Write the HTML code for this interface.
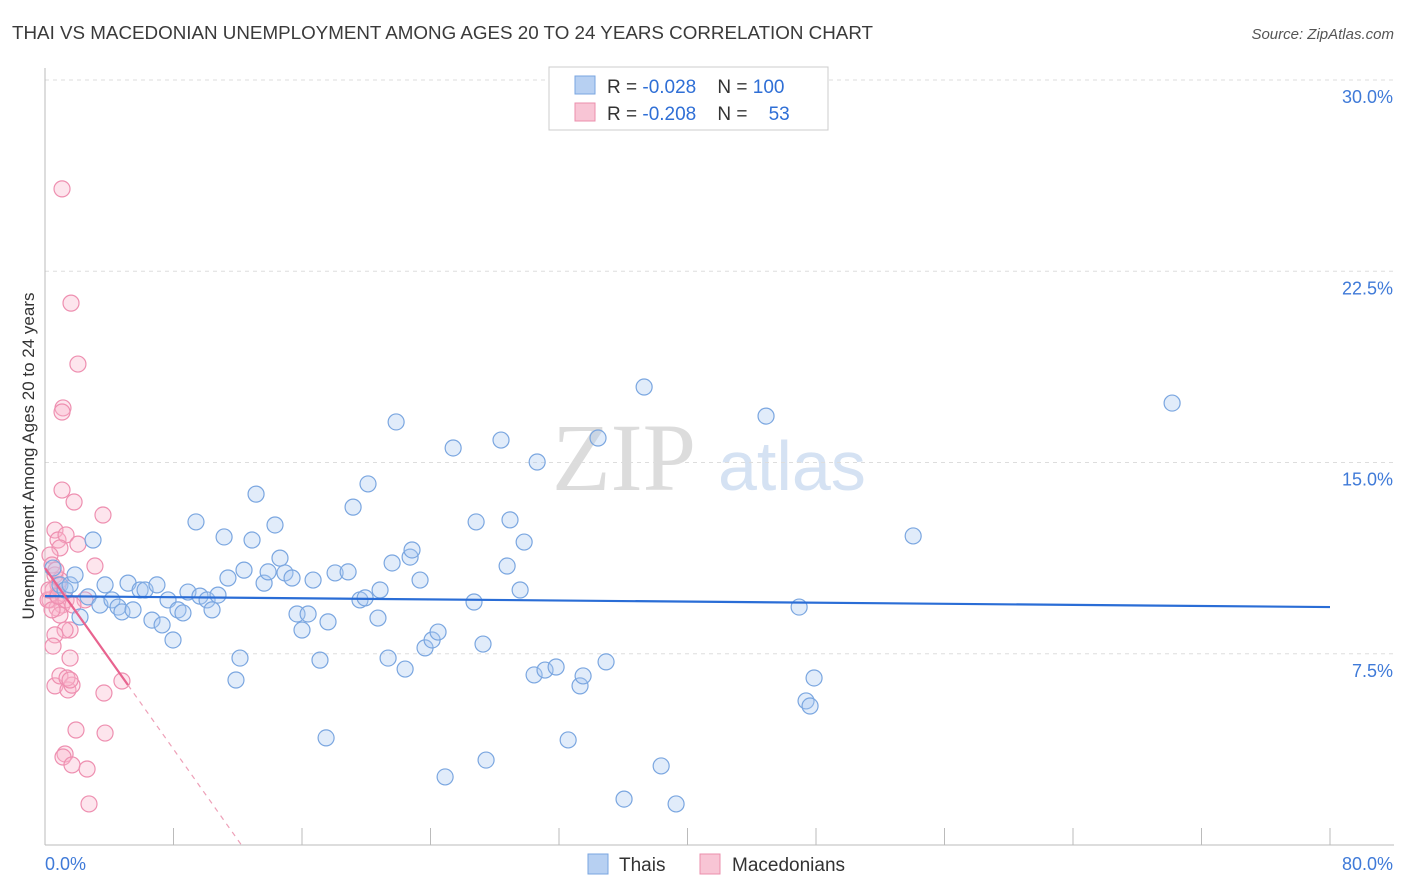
<!DOCTYPE html>
<html><head><meta charset="utf-8">
<style>
body{margin:0;background:#fff;font-family:"Liberation Sans",sans-serif;}
svg{display:block}
</style></head>
<body>
<svg id="chart" width="1406" height="892">
<text x="12" y="39" font-size="18.8" fill="#3a3a3a">THAI VS MACEDONIAN UNEMPLOYMENT AMONG AGES 20 TO 24 YEARS CORRELATION CHART</text>
<text x="1394" y="39" font-size="15" fill="#555" font-style="italic" text-anchor="end">Source: ZipAtlas.com</text>
<g>
<text x="552" y="490" font-size="96" fill="#dcdcdc" font-family="Liberation Serif,serif">ZIP</text>
<text x="718" y="490" font-size="70" fill="#d5e2f3">atlas</text>
</g>
<g id="grid"></g>
<g id="axes"></g>
<g id="marks"></g>
<text transform="translate(34,456) rotate(-90)" font-size="17" fill="#333" text-anchor="middle">Unemployment Among Ages 20 to 24 years</text>
<g>
<rect x="549" y="67" width="279" height="63" fill="#fff" stroke="#ccc"/>
<rect x="575" y="76" width="20" height="18" fill="#b7d0f2" stroke="#7aa6e0"/>
<text x="607" y="93" font-size="19" fill="#333" xml:space="preserve">R = <tspan fill="#2f6fd6">-0.028</tspan>    N = <tspan fill="#2f6fd6">100</tspan></text>
<rect x="575" y="103" width="20" height="18" fill="#f8c5d5" stroke="#eb8fac"/>
<text x="607" y="120" font-size="19" fill="#333" xml:space="preserve">R = <tspan fill="#2f6fd6">-0.208</tspan>    N =    <tspan fill="#2f6fd6">53</tspan></text>
</g>
<g>
<rect x="588" y="854" width="20" height="20" fill="#b7d0f2" stroke="#7aa6e0"/>
<text x="619" y="871" font-size="19" fill="#333">Thais</text>
<rect x="700" y="854" width="20" height="20" fill="#f8c5d5" stroke="#eb8fac"/>
<text x="732" y="871" font-size="19" fill="#333">Macedonians</text>
</g>
</svg>
<script>
const yTicks=[7.5,15.0,22.5,30.0];
const yTickLabels=["7.5%","15.0%","22.5%","30.0%"];
const xTicks=[0,8,16,24,32,40,48,56,64,72,80];
const thaiX=[0.5,0.93,1.25,1.56,1.87,2.18,2.68,2.99,3.42,3.74,4.17,4.55,4.79,5.17,5.48,5.92,6.23,6.66,6.97,7.29,7.66,7.97,8.28,8.59,8.9,9.4,9.65,10.09,10.4,10.77,11.15,11.39,11.89,12.14,12.39,12.89,13.14,13.64,13.89,14.32,14.63,14.94,15.38,15.69,16.0,16.38,16.69,17.12,17.62,17.5,18.06,18.87,19.18,19.61,19.93,20.11,20.73,20.86,21.36,21.61,21.86,22.42,22.73,22.85,23.35,23.66,24.1,24.47,24.91,25.41,26.84,26.71,27.27,27.46,28.39,28.77,28.95,29.58,29.83,30.64,30.45,31.13,31.82,32.57,33.31,33.5,34.43,34.93,36.05,37.3,38.36,39.29,44.89,46.95,47.38,47.63,47.88,54.05,70.17];
const thaiY=[10.86,10.2,10.0,10.2,10.59,8.94,9.73,11.96,9.41,10.2,9.61,9.33,9.14,10.27,9.22,10.0,10.0,8.82,10.2,8.63,9.61,8.04,9.22,9.1,9.92,12.67,9.76,9.61,9.22,9.8,12.08,10.47,6.47,7.33,10.78,11.96,13.76,10.27,10.71,12.55,11.25,10.67,10.47,9.06,8.43,9.06,10.39,7.25,8.75,4.2,10.67,10.71,13.25,9.61,9.69,14.16,8.9,10.0,7.33,11.06,16.59,6.9,11.29,11.57,10.39,7.73,8.04,8.35,2.67,15.57,12.67,9.53,7.88,3.33,15.88,10.94,12.75,10.0,11.88,15.02,6.67,6.86,6.98,4.12,6.24,6.63,15.96,7.18,1.8,17.96,3.1,1.61,16.82,9.33,5.65,5.45,6.55,12.12,17.33];
const macX=[1.06,1.62,2.05,1.12,1.06,1.06,1.81,3.61,0.62,0.81,1.31,2.05,0.93,0.31,0.44,3.11,0.62,0.93,0.5,0.75,0.31,1.06,0.75,2.49,0.93,1.56,1.25,0.62,0.5,1.56,0.62,0.93,1.43,1.68,1.37,4.79,3.67,1.93,3.74,1.25,1.12,1.68,2.62,2.74,0.19,0.44,0.81,0.25,1.31,0.68,1.56,0.81,1.74];
const macY=[25.73,21.25,18.86,17.14,16.98,13.92,13.45,12.94,12.35,11.96,12.16,11.8,11.65,11.37,10.98,10.94,10.59,10.39,10.0,9.8,9.61,9.41,9.29,9.61,9.02,8.43,8.43,8.24,7.8,7.33,6.24,6.63,6.08,6.27,6.55,6.43,5.96,4.51,4.39,3.57,3.45,3.14,2.98,1.61,9.61,9.22,10.2,10.0,9.61,10.78,6.47,9.76,9.41];
const thaiTrend=[9.76,9.33];
const macTrend=[10.86,-0.888];
const X0=45,X1=1330,Y0=845,YPX=25.5;
const sx=v=>X0+(v/80)*(X1-X0);
const sy=v=>Y0-v*YPX;
const NS="http://www.w3.org/2000/svg";
function mk(p,t,a){const e=document.createElementNS(NS,t);for(const k in a)e.setAttribute(k,a[k]);p.appendChild(e);return e;}
const grid=document.getElementById('grid'),axes=document.getElementById('axes'),marks=document.getElementById('marks');
yTicks.forEach((v,i)=>{
 const l=mk(grid,'line',{x1:X0,x2:1394,y1:sy(v),y2:sy(v),stroke:'#ddd','stroke-dasharray':'4,4'});
 
 
 const t=mk(axes,'text',{x:1393,y:sy(v)+23,'font-size':18,fill:'#3f7ad8','text-anchor':'end'});
 t.textContent=yTickLabels[i];
 
 
});
const tl=mk(grid,'line',{x1:X0,x2:1394,y1:80,y2:80,stroke:'#ddd','stroke-dasharray':'4,4'});


const ya=mk(axes,'line',{x1:X0,x2:X0,y1:68,y2:Y0,stroke:'#bbb'});


const xa=mk(axes,'line',{x1:X0,x2:1394,y1:Y0,y2:Y0,stroke:'#bbb'});


xTicks.forEach(v=>{const l=mk(axes,'line',{x1:sx(v),x2:sx(v),y1:Y0,y2:Y0-17,stroke:'#bbb'});
 
 });
const xl0=mk(axes,'text',{x:45,y:870,'font-size':18,fill:'#3f7ad8'});xl0.textContent='0.0%';


const xl1=mk(axes,'text',{x:1393,y:870,'font-size':18,fill:'#3f7ad8','text-anchor':'end'});xl1.textContent='80.0%';


macX.forEach((x,i)=>{const c=mk(marks,'circle',{cx:sx(x),cy:sy(macY[i]),r:8,fill:'rgba(248,180,202,0.35)',stroke:'#ee8fb0','stroke-width':1.2});
 
 });
thaiX.forEach((x,i)=>{const c=mk(marks,'circle',{cx:sx(x),cy:sy(thaiY[i]),r:8,fill:'rgba(170,200,240,0.35)',stroke:'#7aa6e0','stroke-width':1.2});
 
 });
const bt=mk(marks,'line',{x1:sx(0),y1:sy(thaiTrend[0]),x2:sx(80),y2:sy(thaiTrend[1]),stroke:'#2a6dd6','stroke-width':2.2});


const mEnd=-macTrend[0]/macTrend[1];
const ms=mk(marks,'line',{x1:sx(0),y1:sy(macTrend[0]),x2:sx(5.17),y2:sy(macTrend[0]+macTrend[1]*5.17),stroke:'#e8638f','stroke-width':2.2});


const md=mk(marks,'line',{x1:sx(5.17),y1:sy(macTrend[0]+macTrend[1]*5.17),x2:sx(mEnd),y2:sy(0),stroke:'#eea0b8','stroke-width':1.2,'stroke-dasharray':'5,5'});


</script>
</body></html>
